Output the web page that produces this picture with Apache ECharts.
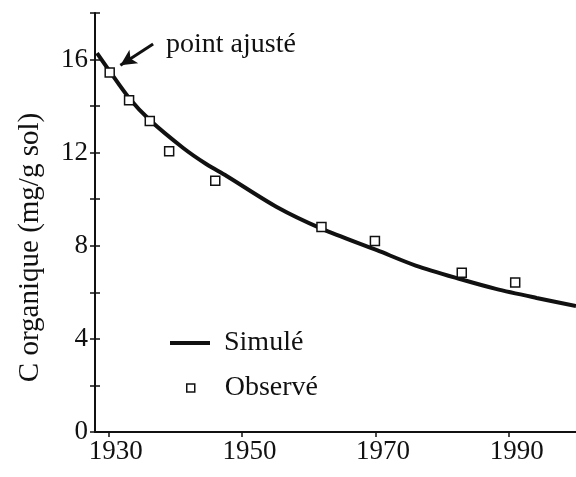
<!DOCTYPE html>
<html lang="fr">
<head>
    <meta charset="UTF-8">
    <title>C organique</title>
    <script src="https://cdn.jsdelivr.net/npm/echarts@6/dist/echarts.min.js"></script>
    <style>
        html, body { margin: 0; padding: 0; background: #fff; }
        #main { width: 576px; height: 477px; }
    </style>
</head>
<body>
<div id="main"></div>

<script>
    // valeurs
    var simYears  = [1928.3, 1930.2, 1933.1, 1936.2, 1941.2, 1944.7, 1947.7, 1955.2, 1961.9, 1970.2, 1976, 1982.9, 1988, 1994.1, 2000];
    var simValues = [16.28, 15.5, 14.35, 13.4, 12.2, 11.5, 11.0, 9.67, 8.74, 7.81, 7.15, 6.55, 6.15, 5.76, 5.41];

    var obsYears  = [1930.2, 1933.1, 1936.2, 1939.1, 1946.0, 1961.9, 1969.9, 1982.9, 1990.9];
    var obsValues = [15.44, 14.25, 13.36, 12.06, 10.79, 8.81, 8.21, 6.84, 6.42];

    var xTicks = [1930, 1950, 1970, 1990];
    var yLabels = [0, 4, 8, 12, 16];

    // flèche "point ajusté" : de la queue vers la pointe
    var arrowFrom = [1936.7, 16.67];
    var arrowTo   = [1931.8, 15.76];

    var serif = '"Liberation Serif", "DejaVu Serif", serif';
    var ink = '#111';

    function pairs(xs, ys) {
        return xs.map(function (x, i) { return [x, ys[i]]; });
    }

    var myChart = echarts.init(document.getElementById('main'));

    var xBase = {
        type: 'value',
        min: 1928,
        max: 2000,
        splitLine: { show: false }
    };
    var yBase = {
        type: 'value',
        min: 0,
        max: 18,
        interval: 2,
        splitLine: { show: false }
    };
    var legendText = { color: ink, fontFamily: serif, fontSize: 28 };

    var option = {
        animation: false,
        backgroundColor: '#fff',
        grid: { left: 95, right: 0, top: 13, bottom: 45, containLabel: false },
        xAxis: [
            Object.assign({}, xBase, {
                axisLine: { lineStyle: { color: ink, width: 2 } },
                axisTick: { customValues: xTicks, length: 5, lineStyle: { color: ink, width: 1.5 } },
                axisLabel: {
                    customValues: xTicks, margin: 6, padding: [0, 0, 0, 15],
                    color: ink, fontFamily: serif, fontSize: 27,
                    formatter: function (v) { return String(v); }
                }
            }),
            Object.assign({}, xBase, {
                axisLine: { show: false },
                axisTick: { customValues: xTicks, inside: true, length: 5, lineStyle: { color: ink, width: 1.5 } },
                axisLabel: { show: false }
            })
        ],
        yAxis: [
            Object.assign({}, yBase, {
                name: 'C organique (mg/g sol)',
                nameLocation: 'middle',
                nameGap: 50,
                nameTextStyle: { color: ink, fontFamily: serif, fontSize: 29, padding: [0, 50, 0, 0] },
                axisLine: { lineStyle: { color: ink, width: 2 } },
                axisTick: { length: 5, lineStyle: { color: ink, width: 1.5 } },
                axisLabel: {
                    customValues: yLabels, margin: 7,
                    color: ink, fontFamily: serif, fontSize: 27,
                    formatter: function (v) { return String(v); }
                }
            }),
            Object.assign({}, yBase, {
                position: 'left',
                axisLine: { show: false },
                axisTick: { inside: true, length: 5, lineStyle: { color: ink, width: 1.5 } },
                axisLabel: { show: false }
            })
        ],
        legend: [
            {
                left: 170,
                top: 329,
                padding: 0,
                itemWidth: 40,
                itemHeight: 4,
                textStyle: Object.assign({ padding: [0, 0, 0, 9] }, legendText),
                data: [{ name: 'Simulé', icon: 'rect', itemStyle: { color: ink, borderWidth: 0 } }]
            },
            {
                left: 186,
                top: 374,
                padding: 0,
                itemWidth: 8,
                itemHeight: 8,
                textStyle: Object.assign({ padding: [0, 0, 0, 25] }, legendText),
                data: [{ name: 'Observé', icon: 'rect', itemStyle: { color: '#fff', borderColor: ink, borderWidth: 1.5 } }]
            }
        ],
        graphic: [{
            type: 'text',
            left: 166,
            top: 31,
            style: { text: 'point ajusté', fill: ink, font: '28px ' + serif }
        }],
        series: [
            {
                name: 'Simulé',
                type: 'line',
                data: pairs(simYears, simValues),
                smooth: 0.3,
                symbol: 'none',
                lineStyle: { color: ink, width: 4 },
                itemStyle: { color: ink },
                z: 2
            },
            {
                name: 'Observé',
                type: 'scatter',
                data: pairs(obsYears, obsValues),
                symbol: 'rect',
                symbolSize: 9,
                itemStyle: { color: '#fff', borderColor: ink, borderWidth: 1.5, opacity: 1 },
                z: 3,
                markLine: {
                    silent: true,
                    symbol: ['none', 'arrow'],
                    symbolSize: [12, 16],
                    label: { show: false },
                    lineStyle: { color: ink, width: 3, type: 'solid' },
                    data: [[{ coord: arrowFrom }, { coord: arrowTo }]]
                }
            }
        ]
    };

    myChart.setOption(option);
</script>
</body>
</html>
